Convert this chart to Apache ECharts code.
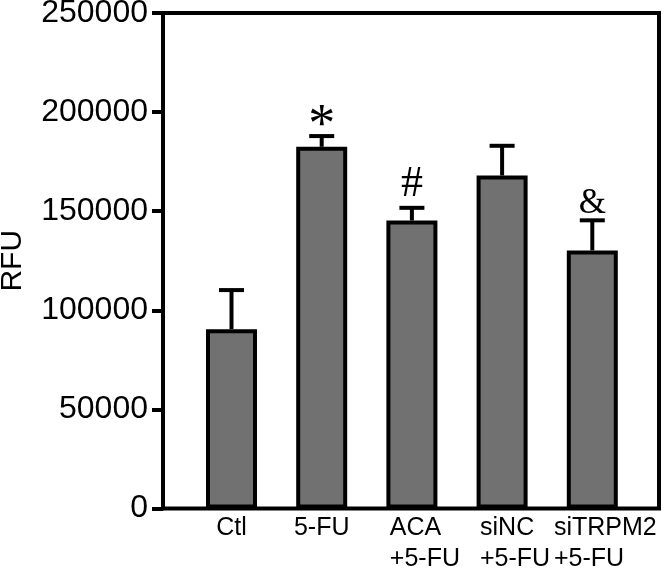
<!DOCTYPE html>
<html>
<head>
<meta charset="utf-8">
<script src="https://cdn.jsdelivr.net/npm/echarts@6/dist/echarts.min.js"></script>
<style>
  html, body { margin: 0; padding: 0; background: #fff; }
  #chart { width: 664px; height: 572px; }
</style>
</head>
<body>
<div id="chart"></div>
<script>
  // values
  var categories = ['Ctl', '5-FU', 'ACA\n+5-FU', 'siNC\n+5-FU', 'siTRPM2\n+5-FU'];
  var means = [90500, 182500, 145300, 168000, 130200];
  var errors = [19700, 5400, 6400, 15000, 15200];
  var marks = ['', '*', '#', '', '&'];
  var yMin = 0, yMax = 250000, yStep = 50000;

  // glyph size / nudge for the significance marks
  var markStyle = {
    '*': { size: 54, dy: -9 },
    '#': { size: 44, dy: -23 },
    '&': { size: 35, dy: -17 }
  };

  var errData = means.map(function (m, i) {
    return [i, m, errors[i], marks[i]];
  });

  var chart = echarts.init(document.getElementById('chart'));

  chart.setOption({
    animation: false,
    textStyle: { fontFamily: 'Liberation Sans' },
    grid: [
      // frame with the y axis
      { left: 163, right: 5, top: 13, bottom: 63.5, outerBoundsMode: 'none', containLabel: false,
        show: true, borderColor: '#000', borderWidth: 4, backgroundColor: 'transparent' },
      // bars
      { left: 186.4, width: 451, top: 13, bottom: 63.5, outerBoundsMode: 'none', containLabel: false }
    ],
    xAxis: [
      { gridIndex: 0, type: 'value', show: false, min: 0, max: 1 },
      {
        gridIndex: 1,
        type: 'category',
        data: categories,
        axisLine: { show: false },
        axisTick: { show: false },
        axisLabel: {
          interval: 0,
          margin: 4,
          color: '#000',
          fontSize: 25,
          lineHeight: 31,
          formatter: function (v) {
            var lines = v.split('\n');
            var tag = lines.length > 1 ? 'm' : 's';
            return lines.map(function (s) { return '{' + tag + '|' + s + '}'; }).join('\n');
          },
          rich: {
            s: { fontSize: 25, lineHeight: 31, color: '#000', align: 'left' },
            m: { fontSize: 25, lineHeight: 31, color: '#000', align: 'left', padding: [0, 0, 0, 26] }
          }
        }
      }
    ],
    yAxis: [
      {
        gridIndex: 0,
        type: 'value',
        min: yMin,
        max: yMax,
        interval: yStep,
        name: 'RFU',
        nameLocation: 'middle',
        nameGap: 135,
        nameTextStyle: { fontSize: 30, color: '#000', fontFamily: 'Liberation Sans' },
        axisLine: { show: true, lineStyle: { color: '#000', width: 4 } },
        axisTick: { show: true, inside: false, length: 11, lineStyle: { color: '#000', width: 4 } },
        axisLabel: {
          fontSize: 32,
          color: '#000',
          margin: 15,
          formatter: function (v) { return String(v); }
        },
        splitLine: { show: false }
      },
      { gridIndex: 1, type: 'value', min: yMin, max: yMax, show: false }
    ],
    series: [
      {
        type: 'bar',
        xAxisIndex: 1,
        yAxisIndex: 1,
        data: means,
        barWidth: 51,
        itemStyle: { color: '#717171', borderColor: '#000', borderWidth: 4 },
        z: 2
      },
      {
        type: 'custom',
        xAxisIndex: 1,
        yAxisIndex: 1,
        data: errData,
        z: 3,
        renderItem: function (params, api) {
          var i = api.value(0);
          var m = api.value(1);
          var e = api.value(2);
          var mark = errData[params.dataIndex][3];
          var base = api.coord([i, m]);
          var top = api.coord([i, m + e]);
          var half = 12.5;
          var children = [
            { type: 'line', shape: { x1: base[0], y1: base[1], x2: top[0], y2: top[1] }, style: { stroke: '#000', lineWidth: 4 } },
            { type: 'line', shape: { x1: top[0] - half, y1: top[1], x2: top[0] + half, y2: top[1] }, style: { stroke: '#000', lineWidth: 4 } }
          ];
          if (mark) {
            var ms = markStyle[mark];
            children.push({
              type: 'text',
              x: top[0],
              y: top[1] + ms.dy,
              style: {
                text: mark,
                fill: '#000',
                font: ms.size + 'px "Liberation Serif"',
                align: 'center',
                verticalAlign: 'middle'
              }
            });
          }
          return { type: 'group', children: children };
        }
      }
    ]
  });
</script>
</body>
</html>
